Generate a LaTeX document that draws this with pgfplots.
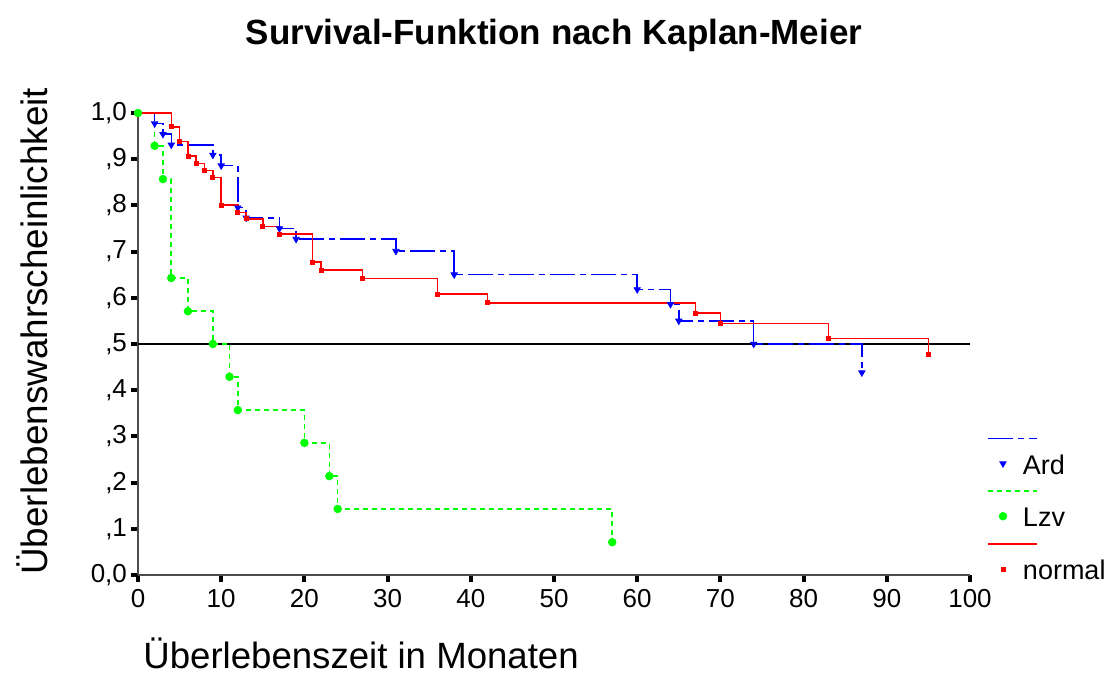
\documentclass[border=0pt]{standalone}
\usepackage{fontspec}
\setmainfont{Liberation Sans}
\usepackage{pgfplots}
\pgfplotsset{compat=1.18}
\tikzset{
  ardline/.style={color={rgb,255:red,0;green,0;blue,255}, line width=0.75pt, dash pattern=on 12.5pt off 2.5pt on 3pt off 2.5pt},
  lzvline/.style={color={rgb,255:red,0;green,255;blue,0}, line width=0.8pt, dash pattern=on 2.5pt off 2pt},
  normline/.style={color={rgb,255:red,255;green,0;blue,0}, line width=0.75pt},
}
\begin{document}
\begin{tikzpicture}
\begin{axis}[
  scale only axis, width=416pt, height=231pt,
  xmin=0, xmax=100, ymin=0, ymax=1,
  axis x line*=bottom, axis y line*=left,
  axis line style={draw=black!70, line width=1pt, -},
  xtick={0,10,20,30,40,50,60,70,80,90,100},
  xticklabels={0,10,20,30,40,50,60,70,80,90,100},
  ytick={0,0.1,0.2,0.3,0.4,0.5,0.6,0.7,0.8,0.9,1},
  yticklabels={{0,0},{,1},{,2},{,3},{,4},{,5},{,6},{,7},{,8},{,9},{1,0}},
  tick align=outside, major tick length=3.5pt,
  tick style={black, line width=2pt},
  ticklabel style={font=\fontsize{13}{15}\selectfont},
  yticklabel style={xshift=1.5pt},
  clip=false,
  title={Survival-Funktion nach Kaplan-Meier},
  every axis title/.style={font=\fontsize{17.5}{20}\selectfont\bfseries, at={(axis description cs:0.5,1)}, anchor=base, yshift=34pt},
  xlabel={Überlebenszeit in Monaten},
  every axis x label/.style={font=\fontsize{18.3}{21}\selectfont, inner sep=0pt, at={(axis description cs:0.006,0)}, anchor=base west, yshift=-46.5pt},
  ylabel={Überlebenswahrscheinlichkeit},
  every axis y label/.style={font=\fontsize{18.4}{22}\selectfont, inner sep=0pt, at={(axis description cs:-0.1082,0)}, anchor=base west, rotate=90},
  legend cell align=left,
  legend style={at={(axis description cs:1.0216,0.2606)}, anchor=north west, draw=none, fill=none,
    inner sep=0pt, outer sep=0pt, row sep=15.3pt, column sep=8pt,
    font=\fontsize{13.5}{16}\selectfont, nodes={inner sep=0pt, outer sep=0pt}},
]
% reference line at 0.5
\addplot[black, line width=0.7pt, forget plot] coordinates {(0,0.5) (100,0.5)};

% Lzv
\addplot[lzvline, const plot, forget plot] coordinates {
(0,1) (2,0.929) (3,0.857) (4,0.643) (6,0.571) (9,0.500) (11,0.429) (12,0.357) (20,0.286) (23,0.214) (24,0.143) (57,0.071)};
% Ard
\addplot[ardline, const plot, forget plot] coordinates {
(0,1) (2,0.977) (3,0.954) (4,0.931) (9,0.909) (10,0.886) (12,0.795) (13,0.773) (17,0.750) (19,0.727) (31,0.701) (38,0.650) (60,0.618) (64,0.586) (65,0.550) (74,0.500) (87,0.438)};
% normal
\addplot[normline, const plot, forget plot] coordinates {
(0,1) (4,0.970) (5,0.938) (6,0.907) (7,0.891) (8,0.875) (9,0.860) (10,0.801) (12,0.785) (13,0.771) (15,0.754) (17,0.738) (21,0.677) (22,0.660) (27,0.642) (36,0.608) (42,0.589) (67,0.567) (70,0.544) (83,0.512) (95,0.478)};

% marks
\addplot[only marks, color={rgb,255:red,0;green,0;blue,255}, mark=triangle*, mark size=1.8pt, mark options={rotate=180},
  legend image code/.code={
    \draw[ardline, overlay] (-7.5pt,13.65pt) -- (17pt,13.65pt);
    \draw plot coordinates {(0pt,1.15pt)};
    \path[draw=none, fill=none] (-7.5pt,-4.85pt) rectangle (2pt,4.85pt);}]
 coordinates {(2,0.977) (3,0.954) (4,0.931) (9,0.909) (10,0.886) (12,0.795) (13,0.773) (17,0.750) (19,0.727) (31,0.701) (38,0.650) (60,0.618) (64,0.586) (65,0.550) (74,0.500) (87,0.438)};
\addlegendentry{Ard}
\addplot[only marks, color={rgb,255:red,0;green,255;blue,0}, mark=*, mark size=1.9pt,
  legend image code/.code={
    \draw[lzvline, overlay] (-7.5pt,13.65pt) -- (17pt,13.65pt);
    \draw plot coordinates {(0pt,1.15pt)};
    \path[draw=none, fill=none] (-7.5pt,-4.85pt) rectangle (2pt,4.85pt);}]
 coordinates {(0,1) (2,0.929) (3,0.857) (4,0.643) (6,0.571) (9,0.500) (11,0.429) (12,0.357) (20,0.286) (23,0.214) (24,0.143) (57,0.071)};
\addlegendentry{Lzv}
\addplot[only marks, color={rgb,255:red,255;green,0;blue,0}, mark=square*, mark size=1pt,
  legend image code/.code={
    \draw[normline, overlay] (-7.5pt,13.65pt) -- (17pt,13.65pt);
    \draw plot coordinates {(0pt,1.15pt)};
    \path[draw=none, fill=none] (-7.5pt,-4.85pt) rectangle (2pt,4.85pt);}]
 coordinates {(4,0.970) (5,0.938) (6,0.907) (7,0.891) (8,0.875) (9,0.860) (10,0.801) (12,0.785) (13,0.771) (15,0.754) (17,0.738) (21,0.677) (22,0.660) (27,0.642) (36,0.608) (42,0.589) (67,0.567) (70,0.544) (83,0.512) (95,0.478)};
\addlegendentry{normal}
\end{axis}
\path ([shift={(-69pt,-49.5pt)}]current axis.south west) rectangle ([shift={(71pt,56.5pt)}]current axis.north east);
\end{tikzpicture}
\end{document}
